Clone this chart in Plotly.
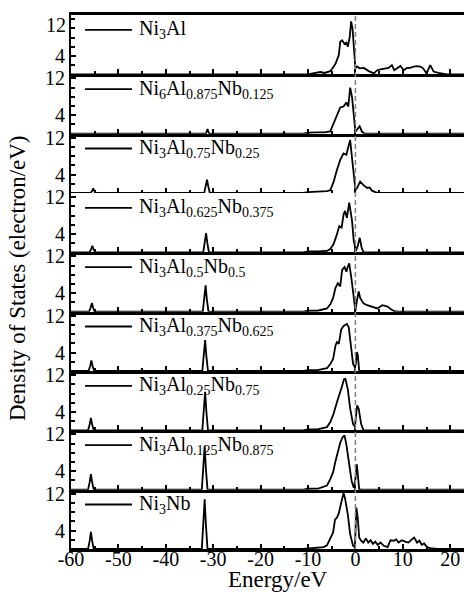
import plotly.graph_objects as go
from plotly.subplots import make_subplots

# ---------------- data ----------------
labels = [
    "Ni<sub>3</sub>Al",
    "Ni<sub>6</sub>Al<sub>0.875</sub>Nb<sub>0.125</sub>",
    "Ni<sub>3</sub>Al<sub>0.75</sub>Nb<sub>0.25</sub>",
    "Ni<sub>3</sub>Al<sub>0.625</sub>Nb<sub>0.375</sub>",
    "Ni<sub>3</sub>Al<sub>0.5</sub>Nb<sub>0.5</sub>",
    "Ni<sub>3</sub>Al<sub>0.375</sub>Nb<sub>0.625</sub>",
    "Ni<sub>3</sub>Al<sub>0.25</sub>Nb<sub>0.75</sub>",
    "Ni<sub>3</sub>Al<sub>0.125</sub>Nb<sub>0.875</sub>",
    "Ni<sub>3</sub>Nb",
]

e1 = [-60, -10, -9, -8, -7.4, -6.5, -5.8, -5.3, -4.9, -4.2, -3.5, -3.2, -2.8, -2.3, -1.9, -1.6, -1.2,
      -0.9, -0.6, -0.4, 0.0, 0.35, 0.9, 1.8, 2.8, 3.9, 4.6, 5.3, 6.3, 7.0, 7.7, 8.2, 8.8, 9.5, 10.2,
      10.9, 11.6, 12.3, 13.0, 13.7, 14.3, 15.0, 15.8, 16.5, 17.5, 19.3, 25]
d1 = [0, 0, 0.2, 0.3, 0.5, 0.3, 0.6, 0.7, 1.2, 2.3, 4.2, 7.1, 7.4, 6.6, 6.9, 6.0, 8.1,
      11.5, 9.9, 6.3, 1.3, 1.7, 1.3, 1.4, 0.7, 0.2, 0.9, 1.1, 1.3, 1.4, 2.0, 0.9, 1.3, 1.8, 0.9,
      1.4, 1.4, 1.7, 1.8, 1.7, 1.3, 0.2, 2.0, 0.6, 0.3, 0, 0]

e2 = [-60, -31.6, -31.35, -31.2, -31.05, -30.8, -11, -10, -8, -6.5, -5.3, -4.2, -3.5, -3.2, -2.5,
      -1.9, -1.5, -1.1, -0.7, -0.4, 0.0, 0.35, 0.9, 1.4, 2.0, 25]
d2 = [0, 0, 0.5, 1.0, 0.5, 0, 0, 0.2, 0.3, 0.3, 0.5, 3.2, 5.0, 5.7, 5.9,
      6.8, 5.9, 10.0, 7.9, 3.9, 0.4, 0.9, 1.6, 0.4, 0, 0]

e3 = [-60, -55.9, -55.5, -55.3, -55.1, -54.7, -31.9, -31.55, -31.3, -31.05, -30.7,
      -11, -10, -8, -6, -5.3, -4.6, -3.9, -3.2, -2.5, -1.9, -1.4, -1.1, -0.7, -0.35, 0.0,
      0.35, 1.0, 1.7, 2.5, 3.0, 3.5, 4.2, 4.9, 25]
d3 = [0, 0, 0.5, 1.0, 0.5, 0, 0, 1.5, 2.9, 1.5, 0,
      0, 0.2, 0.3, 0.4, 0.6, 2.4, 5.0, 7.2, 8.6, 8.3, 10.4, 11.5, 7.5, 3.9, 0.7,
      1.1, 2.5, 1.7, 1.1, 1.2, 0.5, 0.2, 0, 0]

e4 = [-60, -56.1, -55.75, -55.5, -55.25, -54.9, -32.1, -31.75, -31.5, -31.25, -30.9,
      -11, -10, -8, -6, -5.3, -4.6, -3.9, -3.4, -2.9, -2.5, -2.2, -1.8, -1.3, -0.7, -0.35,
      0.1, 0.5, 0.9, 1.3, 1.7, 25]
d4 = [0, 0, 0.7, 1.4, 0.7, 0, 0, 2.1, 4.2, 2.1, 0,
      0, 0.2, 0.2, 0.3, 0.7, 1.8, 3.9, 5.7, 5.4, 8.2, 9.0, 7.5, 10.8, 6.8, 2.5,
      0.3, 1.4, 3.2, 1.1, 0, 0]

e5 = [-60, -56.2, -55.85, -55.6, -55.35, -55.0, -32.2, -31.85, -31.6, -31.35, -31.0,
      -11, -10, -8, -6, -5.3, -4.7, -4.2, -3.7, -3.2, -2.8, -2.3, -1.9, -1.6, -1.3, -0.8,
      -0.35, 0.0, 0.35, 0.7, 1.0, 1.7, 2.5, 3.5, 4.6, 5.7, 6.8, 7.5, 8.2, 9.0, 25]
d5 = [0, 0, 0.9, 1.9, 0.9, 0, 0, 2.8, 5.7, 2.8, 0,
      0, 0.2, 0.2, 0.7, 1.6, 3.0, 5.2, 6.2, 5.5, 9.1, 9.7, 8.7, 9.8, 10.5, 6.9,
      2.3, 0.2, 2.6, 4.4, 3.0, 1.8, 1.4, 1.1, 0.7, 1.4, 1.1, 0.5, 0.1, 0, 0]

e6 = [-60, -56.3, -55.95, -55.7, -55.45, -55.1, -32.3, -31.95, -31.7, -31.45, -31.1,
      -11, -10, -8, -6, -5.3, -4.7, -4.2, -3.9, -3.5, -3.0, -2.5, -1.8, -1.4, -0.9, -0.5,
      -0.1, 0.1, 0.3, 0.5, 0.8, 1.2, 25]
d6 = [0, 0, 1.1, 2.3, 1.1, 0, 0, 3.3, 6.7, 3.3, 0,
      0, 0.2, 0.2, 0.6, 1.5, 2.6, 5.5, 6.3, 5.9, 9.0, 9.8, 10.2, 9.5, 4.8, 1.6,
      0.8, 1.5, 4.1, 3.5, 0.1, 0, 0]

e7 = [-60, -56.4, -56.05, -55.8, -55.55, -55.2, -32.3, -31.95, -31.7, -31.45, -31.1,
      -11, -10, -8, -6, -5.3, -4.6, -3.9, -3.4, -2.9, -2.4, -2.1, -1.6, -1.1, -0.5, -0.1,
      0.35, 0.7, 1.2, 1.7, 25]
d7 = [0, 0, 1.3, 2.7, 1.3, 0, 0, 4.2, 8.4, 4.2, 0,
      0, 0.2, 0.2, 0.7, 1.8, 3.6, 6.1, 7.5, 9.3, 11.1, 11.2, 8.9, 4.7, 1.4, 0.7,
      5.4, 4.7, 1.4, 0, 0]

e8 = [-60, -56.4, -56.05, -55.8, -55.55, -55.2, -32.4, -32.05, -31.8, -31.55, -31.2,
      -11, -10, -8, -6, -5.3, -4.7, -4.2, -3.7, -3.2, -2.7, -2.3, -1.9, -1.4, -0.8, -0.35,
      0.0, 0.3, 0.6, 0.8, 1.2, 25]
d8 = [0, 0, 1.7, 3.4, 1.7, 0, 0, 4.7, 9.5, 4.7, 0,
      0, 0.2, 0.2, 0.9, 2.3, 3.8, 6.2, 8.0, 10.2, 11.4, 11.8, 9.8, 5.9, 1.9, 0.4,
      2.3, 5.5, 2.7, 0.1, 0, 0]

e9 = [-60, -56.4, -56.05, -55.8, -55.55, -55.2, -32.4, -32.05, -31.8, -31.55, -31.2,
      -11, -9, -6.7, -6.0, -5.3, -4.7, -4.3, -3.9, -3.5, -3.0, -2.5, -2.2, -1.6, -1.1, -0.5,
      -0.1, 0.2, 0.5, 0.8, 1.2, 1.7, 2.2, 2.7, 3.2, 3.7, 4.2, 4.7, 5.3, 6.0, 6.8, 7.4,
      8.1, 8.6, 9.1, 9.8, 10.5, 11.2, 11.9, 12.4, 13.0, 13.5, 14.0, 14.5, 15.1, 15.8, 17.2, 25]
d9 = [0, 0, 1.8, 3.7, 1.8, 0, 0, 5.4, 10.8, 5.4, 0,
      0, 0.2, 0.4, 0.8, 2.5, 3.6, 6.4, 6.8, 7.8, 10.4, 12.2, 11.1, 7.5, 3.2, 0.7,
      0.4, 9.0, 6.8, 2.5, 1.8, 1.4, 2.3, 1.4, 1.9, 1.1, 1.6, 0.9, 1.4, 0.7, 0.4, 1.9,
      1.8, 2.1, 1.4, 1.9, 1.6, 1.4, 2.1, 2.5, 1.4, 1.8, 0.9, 1.2, 0.4, 0.2, 0, 0]

energies = [e1, e2, e3, e4, e5, e6, e7, e8, e9]
dos = [d1, d2, d3, d4, d5, d6, d7, d8, d9]

x_ticks = [-60, -50, -40, -30, -20, -10, 0, 10, 20]
x_ticktext = ["-60", "-50", "-40", "-30", "-20", "-10", "0", "10", "20"]
y_ticks = [4, 12]
y_ticktext = ["4", "12"]

# ---------------- figure ----------------
FONT = "Liberation Serif"
FS = 20
n = len(labels)
fig = make_subplots(rows=n, cols=1, shared_xaxes=True, vertical_spacing=0)

for i in range(n):
    fig.add_trace(go.Scatter(x=energies[i], y=dos[i], mode="lines",
                             line=dict(color="black", width=1.8),
                             showlegend=False, hoverinfo="skip"),
                  row=i + 1, col=1)
    xa = dict(range=[-60, 24.6], showline=True, linewidth=3, linecolor="black",
              mirror=(i == 0), ticks="inside", tickmode="array",
              tickvals=x_ticks, ticktext=x_ticktext, ticklen=5, tickwidth=2,
              tickcolor="black",
              minor=dict(ticks="inside", dtick=5, tick0=0, ticklen=3, tickwidth=2,
                         tickcolor="black"),
              showgrid=False, zeroline=False,
              showticklabels=(i == n - 1),
              tickfont=dict(family=FONT, size=FS, color="black"))
    if i == n - 1:
        xa["ticklabelstandoff"] = -10
    fig.update_xaxes(row=i + 1, col=1, **xa)
    # top panel: its "12" label sits lower (drawn as annotation below)
    tv = [4] if i == 0 else y_ticks
    tt = ["4"] if i == 0 else y_ticktext
    fig.update_yaxes(row=i + 1, col=1,
                     range=[0, 12.9], showline=True, linewidth=2, linecolor="black",
                     ticks="inside", tickmode="array", tickvals=tv, ticktext=tt,
                     ticklen=5, tickwidth=2, tickcolor="black",
                     minor=dict(ticks="inside", dtick=2, tick0=0, ticklen=4, tickwidth=2,
                                tickcolor="black"),
                     showgrid=False, zeroline=False,
                     tickfont=dict(family=FONT, size=FS, color="black"))

    ydom = "y domain" if i == 0 else f"y{i + 1} domain"
    fig.add_shape(type="line", xref="paper", yref=ydom,
                  x0=0.035, x1=0.152, y0=0.75, y1=0.75,
                  line=dict(color="black", width=1.8))
    fig.add_annotation(xref="paper", yref=ydom, x=0.165, y=0.75,
                       xanchor="left", yanchor="middle", showarrow=False,
                       text=labels[i], font=dict(family=FONT, size=FS, color="black"))

fig.add_annotation(xref="paper", yref="y domain", x=-0.008, y=0.83,
                   xanchor="right", yanchor="middle", showarrow=False,
                   text="12", font=dict(family=FONT, size=FS, color="black"))

# Fermi level
fig.add_shape(type="line", xref="x", yref="paper", x0=0, x1=0, y0=0, y1=1,
              line=dict(color="#808080", width=1.5, dash="5px,3px"))

fig.add_annotation(xref="paper", yref="paper", x=-0.134, y=0.508, textangle=-90,
                   xanchor="center", yanchor="middle", showarrow=False, borderpad=0,
                   text="Density of States (electron/eV)",
                   font=dict(family=FONT, size=23, color="black"))
fig.add_annotation(xref="paper", yref="paper", x=0.516, y=-0.058,
                   xanchor="center", yanchor="middle", showarrow=False, borderpad=0,
                   text="Energy/eV", font=dict(family=FONT, size=23, color="black"))

fig.update_layout(width=464, height=587,
                  margin=dict(l=63, r=0, t=2, b=46),
                  plot_bgcolor="white", paper_bgcolor="white",
                  font=dict(family=FONT, size=FS, color="black"))

fig.write_html("out.html")
